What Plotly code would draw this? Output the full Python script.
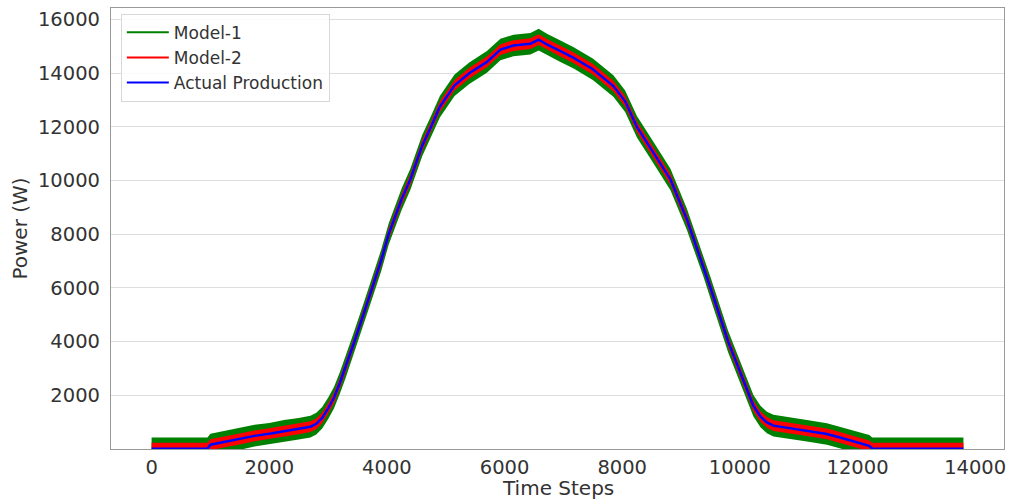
import plotly.graph_objects as go

# Time-step knots along the day
time_steps = [0, 500, 950, 1000, 1250, 1500, 1750, 2000, 2250, 2500,
              2700, 2800, 2900, 3000, 3100, 3200, 3300, 3440, 3600, 3750,
              3900, 4030, 4250, 4400, 4600, 4750, 4900, 5150, 5400, 5700,
              5930, 6150, 6440, 6580, 6720, 6950, 7175, 7500, 7850, 8050,
              8250, 8530, 8820, 9100, 9380, 9500, 9800, 10000, 10140, 10230,
              10350, 10460, 10570, 10850, 11140, 11480, 11700, 11880, 12100, 12200,
              12250, 13800]

# Measured PV output (W)
actual_power = [0, 0, 0, 150, 260, 360, 480, 560, 660, 740,
                820, 930, 1150, 1500, 1900, 2450, 3050, 3950, 5000, 6000,
                7000, 8000, 9300, 10050, 11300, 12000, 12750, 13550, 14000, 14420,
                14880, 15030, 15100, 15250, 15070, 14820, 14570, 14150, 13520, 12950,
                12000, 11040, 10040, 8550, 6820, 6000, 4000, 2900, 2100, 1600,
                1200, 980, 860, 760, 670, 550, 420, 300, 170, 110,
                0, 0]

# Model-1 prediction envelope (upper / lower, W)
model1_upper = [420, 430, 420, 560, 670, 770, 890, 960, 1070, 1150,
                1230, 1340, 1560, 1900, 2300, 2850, 3450, 4350, 5400, 6400,
                7400, 8400, 9700, 10450, 11700, 12400, 13150, 13950, 14400, 14830,
                15280, 15430, 15500, 15660, 15470, 15220, 14970, 14550, 13920, 13350,
                12400, 11440, 10440, 8950, 7220, 6400, 4400, 3300, 2500, 2000,
                1600, 1380, 1270, 1160, 1070, 950, 820, 700, 570, 510,
                420, 420]
model1_lower = [0, 0, 0, -250, -140, -40, 80, 160, 260, 340,
                420, 530, 750, 1100, 1500, 2050, 2650, 3550, 4600, 5600,
                6600, 7600, 8900, 9650, 10900, 11600, 12350, 13150, 13600, 14020,
                14480, 14630, 14700, 14850, 14670, 14420, 14170, 13750, 13120, 12550,
                11600, 10640, 9640, 8150, 6420, 5600, 3600, 2500, 1700, 1200,
                800, 580, 460, 360, 270, 150, 20, -100, -230, -290,
                0, 0]

# Model-2 prediction envelope (upper / lower, W)
model2_upper = [220, 230, 220, 350, 460, 560, 680, 760, 860, 940,
                1020, 1130, 1350, 1700, 2100, 2650, 3250, 4150, 5200, 6200,
                7200, 8200, 9500, 10250, 11500, 12200, 12950, 13750, 14200, 14620,
                15080, 15230, 15300, 15450, 15270, 15020, 14770, 14350, 13720, 13150,
                12200, 11240, 10240, 8750, 7020, 6200, 4200, 3100, 2300, 1800,
                1400, 1180, 1060, 960, 870, 750, 620, 500, 370, 310,
                220, 220]
model2_lower = [0, 0, 0, -50, 60, 160, 280, 360, 460, 540,
                620, 730, 950, 1300, 1700, 2250, 2850, 3750, 4800, 5800,
                6800, 7800, 9100, 9850, 11100, 11800, 12550, 13350, 13800, 14220,
                14680, 14830, 14900, 15050, 14870, 14620, 14370, 13950, 13320, 12750,
                11800, 10840, 9840, 8350, 6620, 5800, 3800, 2700, 1900, 1400,
                1000, 780, 660, 560, 470, 350, 220, 100, -30, -90,
                0, 0]

x_ticks = [0, 2000, 4000, 6000, 8000, 10000, 12000, 14000]
y_ticks = [2000, 4000, 6000, 8000, 10000, 12000, 14000, 16000]

GREEN, RED, BLUE = "#008000", "#ff0000", "#0000ff"
TEXT = "#333333"
FONT = "DejaVu Sans"

fig = go.Figure()

def band(upper, lower, color):
    return go.Scatter(
        x=time_steps + time_steps[::-1],
        y=upper + lower[::-1],
        fill="toself", fillcolor=color,
        mode="lines", line=dict(width=0, color=color),
        showlegend=False, hoverinfo="skip",
    )

fig.add_trace(band(model1_upper, model1_lower, GREEN))
fig.add_trace(band(model2_upper, model2_lower, RED))
fig.add_trace(go.Scatter(x=time_steps, y=actual_power, mode="lines",
                         line=dict(color=BLUE, width=2.5), showlegend=False))

# legend entries
for name, color in [("Model-1", GREEN), ("Model-2", RED), ("Actual Production", BLUE)]:
    fig.add_trace(go.Scatter(x=[None], y=[None], mode="lines", name=name,
                             line=dict(color=color, width=2)))

fig.update_layout(
    width=1009, height=499,
    margin=dict(l=111, r=5, t=8, b=50),
    paper_bgcolor="white", plot_bgcolor="white",
    font=dict(family=FONT, color=TEXT),
    legend=dict(
        x=0.011, y=0.987, xanchor="left", yanchor="top",
        bgcolor="rgba(255,255,255,0.85)", bordercolor="#d8d8d8", borderwidth=1,
        font=dict(size=17, family=FONT, color=TEXT),
        tracegroupgap=0, itemwidth=42,
    ),
    xaxis=dict(
        range=[-690, 14490], tickvals=x_ticks, ticktext=[str(v) for v in x_ticks],
        showgrid=False, zeroline=False, automargin=False,
        showline=True, linecolor="#9a9a9a", linewidth=1.2, mirror=True,
        ticks="", 
        tickfont=dict(size=19.5, family=FONT, color=TEXT),
    ),
    yaxis=dict(
        range=[-10, 16430], tickvals=y_ticks, ticktext=[str(v) for v in y_ticks],
        showgrid=True, gridcolor="#dedede", gridwidth=1, zeroline=False, automargin=False,
        showline=True, linecolor="#9a9a9a", linewidth=1.2, mirror=True,
        ticks="outside", ticklen=6, tickcolor="rgba(0,0,0,0)",
        tickfont=dict(size=19.5, family=FONT, color=TEXT),
        title=dict(text="Power (W)", font=dict(size=20, family=FONT, color=TEXT), standoff=4),
    ),
    annotations=[dict(
        text="Time Steps", xref="paper", yref="paper", x=0.5, y=-0.088,
        xanchor="center", yanchor="middle", showarrow=False,
        font=dict(size=20, family=FONT, color=TEXT),
    )],
)

fig.write_html("out.html")
